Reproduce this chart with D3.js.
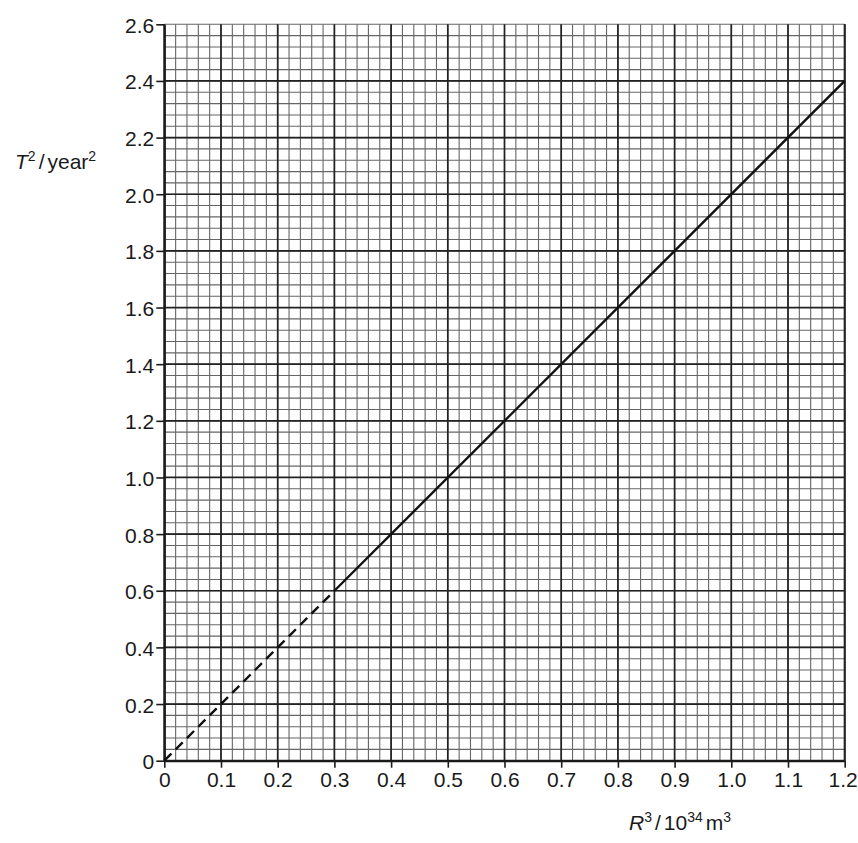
<!DOCTYPE html>
<html>
<head>
<meta charset="utf-8">
<script src="https://cdn.jsdelivr.net/npm/d3@7"></script>
<style>
  html, body { margin: 0; padding: 0; background: #fff; }
  svg { display: block; font-family: "Liberation Sans", Arial, sans-serif; }
</style>
</head>
<body>
<div id="chart"></div>
<script>
// axis ranges and tick labels
const xDomain = [0, 1.2]
const yDomain = [0, 2.6]
const xTickValues = [0, 0.1, 0.2, 0.3, 0.4, 0.5, 0.6, 0.7, 0.8, 0.9, 1.0, 1.1, 1.2]
const xTickLabels = ['0', '0.1', '0.2', '0.3', '0.4', '0.5', '0.6', '0.7', '0.8', '0.9', '1.0', '1.1', '1.2']
const yTickValues = [0, 0.2, 0.4, 0.6, 0.8, 1.0, 1.2, 1.4, 1.6, 1.8, 2.0, 2.2, 2.4, 2.6]
const yTickLabels = ['0', '0.2', '0.4', '0.6', '0.8', '1.0', '1.2', '1.4', '1.6', '1.8', '2.0', '2.2', '2.4', '2.6']

// graph line: dashed extrapolation to origin, then the solid measured part
const dashedR3 = [0, 0.3]
const dashedT2 = [0, 0.6]
const solidR3 = [0.3, 1.2]
const solidT2 = [0.6, 2.4]

const width = 858
const height = 843
const margin = { top: 24.3, right: 13.3, bottom: 82.3, left: 164.3 }

const svg = d3.select('#chart')
  .append('svg')
  .attr('width', width)
  .attr('height', height)

const x = d3.scaleLinear().domain(xDomain).range([margin.left, width - margin.right])
const y = d3.scaleLinear().domain(yDomain).range([height - margin.bottom, margin.top])

// graph paper: minor every 0.02 (x) / 0.04 (y), major every 0.1 / 0.2
const xMinor = d3.range(0, 61).map(i => i * 0.02)
const yMinor = d3.range(0, 66).map(i => i * 0.04)

const grid = svg.append('g')

grid.append('g')
  .attr('stroke', '#666')
  .attr('stroke-width', 1.1)
  .selectAll('line')
  .data(xMinor)
  .join('line')
  .attr('x1', d => x(d)).attr('x2', d => x(d))
  .attr('y1', y(yDomain[0])).attr('y2', y(yDomain[1]))

grid.append('g')
  .attr('stroke', '#666')
  .attr('stroke-width', 1.1)
  .selectAll('line')
  .data(yMinor)
  .join('line')
  .attr('y1', d => y(d)).attr('y2', d => y(d))
  .attr('x1', x(xDomain[0])).attr('x2', x(xDomain[1]))

grid.append('g')
  .attr('stroke', '#222')
  .attr('stroke-width', 1.7)
  .selectAll('line')
  .data(xTickValues)
  .join('line')
  .attr('x1', d => x(d)).attr('x2', d => x(d))
  .attr('y1', y(yDomain[0])).attr('y2', y(yDomain[1]))

grid.append('g')
  .attr('stroke', '#222')
  .attr('stroke-width', 1.7)
  .selectAll('line')
  .data(yTickValues.slice(0, -1))
  .join('line')
  .attr('y1', d => y(d)).attr('y2', d => y(d))
  .attr('x1', x(xDomain[0])).attr('x2', x(xDomain[1]))

// axes
const xAxis = svg.append('g')
  .attr('transform', `translate(0,${y(0)})`)
  .call(d3.axisBottom(x)
    .tickValues(xTickValues)
    .tickFormat((d, i) => xTickLabels[i])
    .tickSize(7)
    .tickPadding(4)
    .tickSizeOuter(0))

const yAxis = svg.append('g')
  .attr('transform', `translate(${x(0)},0)`)
  .call(d3.axisLeft(y)
    .tickValues(yTickValues)
    .tickFormat((d, i) => yTickLabels[i])
    .tickSize(8)
    .tickPadding(2)
    .tickSizeOuter(0))

for (const axis of [xAxis, yAxis]) {
  axis.select('.domain').attr('stroke', '#1a1a1a').attr('stroke-width', 2.2)
  axis.selectAll('.tick line').attr('stroke', '#1a1a1a').attr('stroke-width', 1.6)
  axis.selectAll('.tick text')
    .attr('fill', '#1a1a1a')
    .style('font-size', '21px')
    .style('font-family', '"Liberation Sans", Arial, sans-serif')
}
yAxis.selectAll('.tick text').attr('dy', '0.38em')
// last x label sits right at the page edge
xAxis.selectAll('.tick text').filter((d, i) => i === xTickValues.length - 1).attr('dx', -2)

// right border
svg.append('line')
  .attr('x1', x(xDomain[1])).attr('x2', x(xDomain[1]))
  .attr('y1', y(yDomain[0])).attr('y2', y(yDomain[1]))
  .attr('stroke', '#222')
  .attr('stroke-width', 1.8)

// the line
const line = d3.line().x(d => x(d[0])).y(d => y(d[1]))

svg.append('path')
  .datum(d3.zip(dashedR3, dashedT2))
  .attr('d', line)
  .attr('fill', 'none')
  .attr('stroke', '#111')
  .attr('stroke-width', 2.4)
  .attr('stroke-dasharray', '10,6')

svg.append('path')
  .datum(d3.zip(solidR3, solidT2))
  .attr('d', line)
  .attr('fill', 'none')
  .attr('stroke', '#111')
  .attr('stroke-width', 2.4)

// axis titles with superscripts
const sup = (text, parts) => {
  parts.forEach(p => {
    const t = text.append('tspan').text(p.t)
    if (p.italic) t.attr('font-style', 'italic')
    if (p.sup) t.attr('font-size', '14px').attr('dy', '-8')
    if (p.down) t.attr('dy', '8')
    if (p.dx) t.attr('dx', p.dx)
  })
}

const yTitle = svg.append('text')
  .attr('x', 15)
  .attr('y', 169)
  .attr('fill', '#1a1a1a')
  .style('font-size', '21px')
sup(yTitle, [
  { t: 'T', italic: true },
  { t: '2', sup: true },
  { t: '/', down: true, dx: 3 },
  { t: 'year', dx: 3 },
  { t: '2', sup: true }
])

const xTitle = svg.append('text')
  .attr('x', 629)
  .attr('y', 830)
  .attr('fill', '#1a1a1a')
  .style('font-size', '21px')
sup(xTitle, [
  { t: 'R', italic: true },
  { t: '3', sup: true },
  { t: '/', down: true, dx: 3 },
  { t: '10', dx: 3 },
  { t: '34', sup: true },
  { t: 'm', down: true, dx: 3 },
  { t: '3', sup: true }
])
</script>
</body>
</html>
